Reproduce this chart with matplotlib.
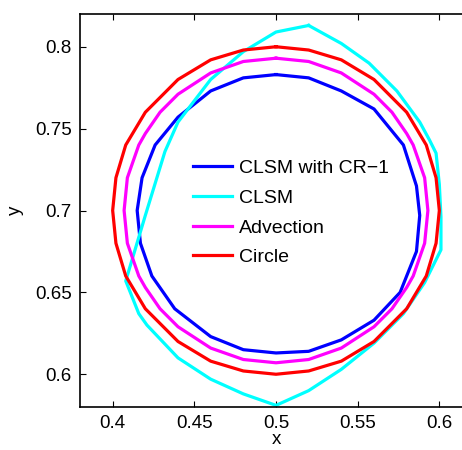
import matplotlib
matplotlib.use("Agg")
import matplotlib.pyplot as plt

plt.rcParams['font.family'] = ['Liberation Sans', 'DejaVu Sans']

# CLSM with CR-1 (blue)
cr_x = [0.500, 0.480, 0.460, 0.440, 0.426, 0.418, 0.415, 0.417, 0.424, 0.438,
        0.460, 0.480, 0.500, 0.520, 0.540, 0.560, 0.576, 0.586, 0.588, 0.586,
        0.578, 0.560, 0.540, 0.520, 0.500]
cr_y = [0.783, 0.781, 0.773, 0.757, 0.740, 0.720, 0.700, 0.680, 0.660, 0.640,
        0.623, 0.615, 0.613, 0.614, 0.621, 0.633, 0.650, 0.675, 0.697, 0.715,
        0.740, 0.762, 0.773, 0.781, 0.783]

# CLSM (cyan)
clsm_x = [0.520, 0.500, 0.480, 0.460, 0.440, 0.432, 0.420, 0.408, 0.416, 0.421,
          0.440, 0.460, 0.480, 0.500, 0.520, 0.540, 0.560, 0.578, 0.591, 0.601,
          0.601, 0.600, 0.598, 0.594, 0.588, 0.574, 0.557, 0.540, 0.520]
clsm_y = [0.813, 0.809, 0.797, 0.780, 0.754, 0.736, 0.697, 0.657, 0.637, 0.630,
          0.610, 0.597, 0.588, 0.581, 0.590, 0.603, 0.619, 0.637, 0.656, 0.676,
          0.696, 0.716, 0.735, 0.743, 0.754, 0.773, 0.790, 0.802, 0.813]

# Advection (magenta)
adv_x = [0.500, 0.480, 0.460, 0.440, 0.429, 0.420, 0.416, 0.409, 0.407, 0.409,
         0.416, 0.420, 0.429, 0.440, 0.460, 0.480, 0.500, 0.520, 0.540, 0.560,
         0.571, 0.580, 0.584, 0.591, 0.593, 0.591, 0.584, 0.580, 0.571, 0.560,
         0.540, 0.520, 0.500]
adv_y = [0.793, 0.791, 0.784, 0.771, 0.760, 0.747, 0.740, 0.720, 0.700, 0.680,
         0.660, 0.653, 0.640, 0.629, 0.616, 0.609, 0.607, 0.609, 0.616, 0.629,
         0.640, 0.653, 0.660, 0.680, 0.700, 0.720, 0.740, 0.747, 0.760, 0.771,
         0.784, 0.791, 0.793]

# Circle (red)
circ_x = [0.500, 0.480, 0.460, 0.440, 0.420, 0.408, 0.402, 0.400, 0.402, 0.408,
          0.420, 0.440, 0.460, 0.480, 0.500, 0.520, 0.540, 0.560, 0.580, 0.592,
          0.598, 0.600, 0.598, 0.592, 0.580, 0.560, 0.540, 0.520, 0.500]
circ_y = [0.800, 0.798, 0.792, 0.780, 0.760, 0.740, 0.720, 0.700, 0.680, 0.660,
          0.640, 0.620, 0.608, 0.602, 0.600, 0.602, 0.608, 0.620, 0.640, 0.660,
          0.680, 0.700, 0.720, 0.740, 0.760, 0.780, 0.792, 0.798, 0.800]

x_ticks = [0.4, 0.45, 0.5, 0.55, 0.6]
y_ticks = [0.6, 0.65, 0.7, 0.75, 0.8]
x_labels = ['0.4', '0.45', '0.5', '0.55', '0.6']
y_labels = ['0.6', '0.65', '0.7', '0.75', '0.8']

fig = plt.figure(figsize=(4.62, 4.5), dpi=100)
# axes run a little past the right edge of the figure, like the original
ax = fig.add_axes([80 / 462, 43 / 450, 392 / 462, 393 / 450])

ax.plot(cr_x, cr_y, color=(0, 0, 1), lw=2.3, label='CLSM with CR\u22121')
ax.plot(clsm_x, clsm_y, color=(0, 1, 1), lw=2.3, label='CLSM')
ax.plot(adv_x, adv_y, color=(1, 0, 1), lw=2.3, label='Advection')
ax.plot(circ_x, circ_y, color=(1, 0, 0), lw=2.3, label='Circle')

ax.set_xlim(0.38, 0.62)
ax.set_ylim(0.58, 0.82)
ax.set_xticks(x_ticks)
ax.set_yticks(y_ticks)
ax.set_xticklabels(x_labels)
ax.set_yticklabels(y_labels)
ax.tick_params(direction='in', length=4, width=0.8, labelsize=13.5,
               top=True, right=False, pad=6)
for s in ax.spines.values():
    s.set_linewidth(1.2)
ax.spines['right'].set_visible(False)
ax.set_xlabel('x', fontsize=13.5, labelpad=-1)
ax.set_ylabel('y', fontsize=13.5, labelpad=8)

ax.legend(loc='upper left', bbox_to_anchor=(0.243, 0.674), frameon=False,
          fontsize=14, handlelength=2.0, handletextpad=0.4, labelspacing=0.62)

fig.savefig('out.png', dpi=100)
